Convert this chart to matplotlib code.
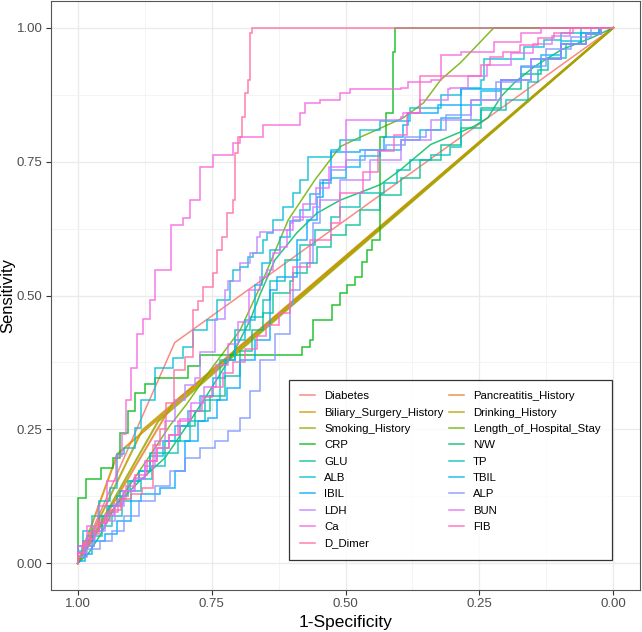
import numpy as np
import matplotlib
matplotlib.use('Agg')
import matplotlib.pyplot as plt
from matplotlib.lines import Line2D

plt.rcParams['font.family'] = ['Liberation Sans', 'DejaVu Sans']

# series names, in factor order (colour order)
names = ["Diabetes", "Pancreatitis_History", "Biliary_Surgery_History", "Drinking_History",
         "Smoking_History", "Length_of_Hospital_Stay", "CRP", "N/W", "GLU", "TP", "ALB",
         "TBIL", "IBIL", "ALP", "LDH", "BUN", "Ca", "FIB", "D_Dimer"]

# ROC curves: x = specificity (axis reversed), y = sensitivity
diabetes_spec = [1.0, 0.819, 0.0]
diabetes_sens = [0.0, 0.412, 1.0]
pancreatitis_spec = [1.0, 0.823, 0.0]
pancreatitis_sens = [0.0, 0.298, 1.0]
biliary_spec = [1.0, 0.926, 0.0]
biliary_sens = [0.0, 0.204, 1.0]
drinking_spec = [1.0, 0.88, 0.0]
drinking_sens = [0.0, 0.248, 1.0]
smoking_spec = [1.0, 0.85, 0.0]
smoking_sens = [0.0, 0.265, 1.0]

stay_spec = [1.0, 0.96, 0.913, 0.866, 0.828, 0.796, 0.753, 0.697, 0.66, 0.607, 0.557, 0.51,
             0.472, 0.44, 0.392, 0.354, 0.322, 0.285, 0.223, 0.0]
stay_sens = [0.0, 0.064, 0.131, 0.20, 0.257, 0.298, 0.36, 0.435, 0.515, 0.641, 0.716, 0.778,
             0.796, 0.81, 0.832, 0.86, 0.903, 0.935, 1.0, 1.0]

crp_spec = [1.0, 0.984, 0.956, 0.935, 0.922, 0.907, 0.894, 0.875, 0.856, 0.795, 0.772, 0.581,
            0.566, 0.56, 0.525, 0.51, 0.497, 0.482, 0.469, 0.459, 0.45, 0.435, 0.424, 0.412,
            0.407, 0.0]
crp_sens = [0.0, 0.122, 0.157, 0.178, 0.197, 0.244, 0.285, 0.317, 0.335, 0.345, 0.369, 0.388,
            0.403, 0.416, 0.454, 0.482, 0.504, 0.519, 0.534, 0.562, 0.585, 0.603, 0.796, 0.841,
            0.954, 1.0]

nw_spec = [1.0, 0.981, 0.959, 0.927, 0.884, 0.837, 0.79, 0.753, 0.71, 0.678, 0.66, 0.632,
           0.591, 0.553, 0.51, 0.435, 0.397, 0.341, 0.26, 0.234, 0.21, 0.185, 0.148, 0.097,
           0.041, 0.0]
nw_sens = [0.0, 0.017, 0.051, 0.111, 0.154, 0.197, 0.266, 0.323, 0.392, 0.454, 0.501, 0.566,
           0.617, 0.654, 0.678, 0.707, 0.735, 0.782, 0.816, 0.832, 0.871, 0.897, 0.927, 0.959,
           0.981, 1.0]

glu_spec = [1.0, 0.99, 0.974, 0.96, 0.945, 0.926, 0.907, 0.885, 0.866, 0.838, 0.81, 0.781,
            0.753, 0.725, 0.697, 0.675, 0.654, 0.635, 0.603, 0.598, 0.572, 0.553, 0.528, 0.50,
            0.472, 0.435, 0.397, 0.36, 0.322, 0.285, 0.247, 0.21, 0.172, 0.135, 0.097, 0.06,
            0.022, 0.0]
glu_sens = [0.0, 0.019, 0.041, 0.06, 0.088, 0.107, 0.126, 0.154, 0.172, 0.206, 0.229, 0.257,
            0.285, 0.313, 0.35, 0.397, 0.435, 0.467, 0.504, 0.528, 0.542, 0.56, 0.59, 0.613,
            0.632, 0.66, 0.688, 0.72, 0.753, 0.781, 0.813, 0.851, 0.885, 0.913, 0.941, 0.969,
            0.991, 1.0]

tp_spec = [1.0, 0.986, 0.969, 0.954, 0.937, 0.918, 0.9, 0.881, 0.862, 0.838, 0.813, 0.791,
           0.763, 0.735, 0.707, 0.678, 0.654, 0.641, 0.613, 0.585, 0.557, 0.528, 0.51, 0.472,
           0.429, 0.403, 0.379, 0.341, 0.304, 0.285, 0.247, 0.201, 0.159, 0.141, 0.122, 0.088,
           0.051, 0.026, 0.0]
tp_sens = [0.0, 0.013, 0.032, 0.051, 0.069, 0.088, 0.116, 0.135, 0.157, 0.182, 0.206, 0.229,
           0.266, 0.304, 0.379, 0.435, 0.459, 0.491, 0.528, 0.566, 0.594, 0.622, 0.647, 0.665,
           0.692, 0.71, 0.735, 0.753, 0.763, 0.778, 0.828, 0.847, 0.866, 0.898, 0.922, 0.944,
           0.969, 0.988, 1.0]

alb_spec = [1.0, 0.99, 0.974, 0.96, 0.94, 0.926, 0.913, 0.894, 0.881, 0.856, 0.823, 0.804,
            0.785, 0.759, 0.74, 0.716, 0.71, 0.697, 0.682, 0.673, 0.654, 0.647, 0.635, 0.617,
            0.598, 0.585, 0.57, 0.56, 0.528, 0.51, 0.472, 0.435, 0.379, 0.322, 0.285, 0.247,
            0.242, 0.167, 0.129, 0.097, 0.06, 0.03, 0.0]
alb_sens = [0.0, 0.032, 0.06, 0.088, 0.116, 0.14, 0.204, 0.216, 0.253, 0.304, 0.365, 0.384,
            0.403, 0.435, 0.454, 0.491, 0.528, 0.547, 0.553, 0.572, 0.579, 0.603, 0.617, 0.641,
            0.665, 0.692, 0.716, 0.759, 0.759, 0.772, 0.791, 0.81, 0.825, 0.85, 0.875, 0.888,
            0.903, 0.941, 0.965, 0.978, 0.99, 1.0, 1.0]

tbil_spec = [1.0, 0.993, 0.982, 0.969, 0.954, 0.941, 0.922, 0.903, 0.885, 0.866, 0.841, 0.819,
             0.795, 0.772, 0.748, 0.725, 0.707, 0.688, 0.669, 0.656, 0.641, 0.622, 0.603, 0.585,
             0.566, 0.547, 0.528, 0.50, 0.472, 0.435, 0.397, 0.36, 0.322, 0.285, 0.247, 0.21,
             0.172, 0.135, 0.097, 0.06, 0.026, 0.0]
tbil_sens = [0.0, 0.022, 0.032, 0.051, 0.06, 0.088, 0.107, 0.135, 0.154, 0.172, 0.20, 0.229,
             0.257, 0.285, 0.313, 0.345, 0.379, 0.416, 0.454, 0.52, 0.56, 0.585, 0.61, 0.64,
             0.66, 0.69, 0.71, 0.72, 0.74, 0.76, 0.772, 0.791, 0.81, 0.832, 0.856, 0.881,
             0.903, 0.926, 0.95, 0.975, 0.991, 1.0]

ibil_spec = [1.0, 0.987, 0.974, 0.95, 0.926, 0.9, 0.881, 0.847, 0.819, 0.8, 0.776, 0.757,
             0.74, 0.722, 0.697, 0.669, 0.641, 0.628, 0.59, 0.572, 0.553, 0.542, 0.528, 0.472,
             0.429, 0.422, 0.392, 0.384, 0.328, 0.285, 0.21, 0.154, 0.097, 0.051, 0.022, 0.0]
ibil_sens = [0.0, 0.004, 0.017, 0.041, 0.054, 0.079, 0.116, 0.129, 0.141, 0.172, 0.229, 0.266,
             0.272, 0.304, 0.328, 0.379, 0.416, 0.51, 0.534, 0.603, 0.641, 0.684, 0.716, 0.768,
             0.772, 0.796, 0.796, 0.819, 0.841, 0.856, 0.885, 0.903, 0.941, 0.969, 0.988, 1.0]

alp_spec = [1.0, 0.982, 0.959, 0.937, 0.913, 0.885, 0.856, 0.828, 0.80, 0.772, 0.744, 0.72,
            0.697, 0.678, 0.66, 0.632, 0.603, 0.598, 0.585, 0.56, 0.547, 0.528, 0.50, 0.463,
            0.425, 0.388, 0.35, 0.313, 0.266, 0.219, 0.172, 0.126, 0.079, 0.041, 0.0]
alp_sens = [0.0, 0.011, 0.026, 0.041, 0.06, 0.088, 0.116, 0.144, 0.172, 0.197, 0.216, 0.229,
            0.247, 0.272, 0.322, 0.379, 0.429, 0.485, 0.51, 0.56, 0.635, 0.716, 0.735, 0.753,
            0.772, 0.781, 0.796, 0.81, 0.838, 0.866, 0.898, 0.928, 0.96, 0.982, 1.0]

ldh_spec = [1.0, 0.988, 0.969, 0.95, 0.931, 0.913, 0.894, 0.875, 0.856, 0.838, 0.819, 0.80,
            0.781, 0.772, 0.744, 0.725, 0.72, 0.697, 0.678, 0.665, 0.66, 0.635, 0.603, 0.598,
            0.56, 0.547, 0.51, 0.454, 0.397, 0.341, 0.266, 0.21, 0.154, 0.097, 0.051, 0.022, 0.0]
ldh_sens = [0.0, 0.013, 0.032, 0.06, 0.079, 0.107, 0.135, 0.157, 0.182, 0.229, 0.266, 0.304,
            0.332, 0.345, 0.394, 0.457, 0.51, 0.528, 0.56, 0.579, 0.609, 0.618, 0.622, 0.635,
            0.647, 0.665, 0.678, 0.716, 0.753, 0.791, 0.828, 0.866, 0.903, 0.941, 0.969, 0.988, 1.0]

bun_spec = [1.0, 0.985, 0.968, 0.95, 0.932, 0.915, 0.895, 0.875, 0.852, 0.83, 0.81, 0.788,
            0.765, 0.742, 0.72, 0.70, 0.68, 0.66, 0.647, 0.635, 0.622, 0.609, 0.598, 0.579,
            0.555, 0.53, 0.50, 0.472, 0.397, 0.392, 0.36, 0.309, 0.304, 0.272, 0.235, 0.19,
            0.15, 0.115, 0.08, 0.045, 0.0]
bun_sens = [0.0, 0.02, 0.045, 0.065, 0.09, 0.11, 0.135, 0.16, 0.19, 0.215, 0.24, 0.27, 0.30,
            0.33, 0.37, 0.41, 0.45, 0.51, 0.534, 0.547, 0.579, 0.591, 0.622, 0.641, 0.67, 0.70,
            0.74, 0.828, 0.828, 0.834, 0.841, 0.866, 0.885, 0.888, 0.91, 0.93, 0.952, 0.97,
            0.985, 1.0, 1.0]

ca_spec = [1.0, 0.982, 0.963, 0.945, 0.928, 0.918, 0.909, 0.90, 0.89, 0.879, 0.866, 0.856,
           0.843, 0.825, 0.804, 0.791, 0.772, 0.748, 0.722, 0.71, 0.697, 0.692, 0.654, 0.617,
           0.585, 0.575, 0.547, 0.51, 0.491, 0.454, 0.397, 0.384, 0.341, 0.322, 0.285, 0.223,
           0.21, 0.172, 0.167, 0.135, 0.131, 0.0]
ca_sens = [0.0, 0.032, 0.069, 0.107, 0.154, 0.20, 0.242, 0.304, 0.365, 0.429, 0.457, 0.491,
           0.547, 0.547, 0.632, 0.645, 0.678, 0.74, 0.763, 0.763, 0.785, 0.796, 0.796, 0.819,
           0.819, 0.841, 0.86, 0.866, 0.879, 0.885, 0.885, 0.888, 0.898, 0.903, 0.95, 0.954,
           0.973, 0.973, 0.991, 0.991, 1.0, 1.0]

fib_spec = [1.0, 0.99, 0.977, 0.96, 0.945, 0.925, 0.91, 0.893, 0.87, 0.852, 0.83, 0.812, 0.79,
            0.768, 0.75, 0.728, 0.71, 0.688, 0.665, 0.648, 0.625, 0.603, 0.598, 0.566, 0.528,
            0.51, 0.467, 0.44, 0.41, 0.385, 0.36, 0.347, 0.247, 0.23, 0.205, 0.175, 0.14, 0.11,
            0.075, 0.045, 0.0]
fib_sens = [0.0, 0.02, 0.035, 0.055, 0.075, 0.095, 0.12, 0.145, 0.165, 0.19, 0.215, 0.24,
            0.265, 0.285, 0.31, 0.33, 0.355, 0.375, 0.40, 0.425, 0.445, 0.467, 0.51, 0.553,
            0.603, 0.635, 0.692, 0.73, 0.77, 0.80, 0.84, 0.91, 0.91, 0.93, 0.945, 0.955, 0.968,
            0.98, 0.99, 1.0, 1.0]

ddimer_spec = [1.0, 0.99, 0.975, 0.96, 0.94, 0.92, 0.90, 0.88, 0.86, 0.847, 0.835, 0.82, 0.80,
               0.785, 0.785, 0.776, 0.766, 0.748, 0.74, 0.731, 0.722, 0.71, 0.707, 0.701, 0.693,
               0.688, 0.682, 0.678, 0.675, 0.665, 0.0]
ddimer_sens = [0.0, 0.02, 0.04, 0.06, 0.08, 0.10, 0.12, 0.13, 0.14, 0.22, 0.25, 0.30, 0.36,
               0.385, 0.45, 0.472, 0.49, 0.515, 0.542, 0.585, 0.609, 0.654, 0.678, 0.766, 0.796,
               0.834, 0.879, 0.903, 0.991, 1.0, 1.0]

# (x, y, stepped?) in factor order
curves = [
    (diabetes_spec, diabetes_sens, False),
    (pancreatitis_spec, pancreatitis_sens, False),
    (biliary_spec, biliary_sens, False),
    (drinking_spec, drinking_sens, False),
    (smoking_spec, smoking_sens, False),
    (stay_spec, stay_sens, False),
    (crp_spec, crp_sens, True),
    (nw_spec, nw_sens, False),
    (glu_spec, glu_sens, True),
    (tp_spec, tp_sens, True),
    (alb_spec, alb_sens, True),
    (tbil_spec, tbil_sens, True),
    (ibil_spec, ibil_sens, True),
    (alp_spec, alp_sens, True),
    (ldh_spec, ldh_sens, True),
    (bun_spec, bun_sens, True),
    (ca_spec, ca_sens, True),
    (fib_spec, fib_sens, True),
    (ddimer_spec, ddimer_sens, True),
]


def hcl(h, c=100.0, l=65.0):
    # polar Luv -> sRGB, like R's hcl()
    hr = np.deg2rad(h)
    u = c * np.cos(hr)
    v = c * np.sin(hr)
    xn, yn, zn = 95.047, 100.0, 108.883
    y = yn * ((l + 16) / 116) ** 3
    den = xn + 15 * yn + 3 * zn
    up = u / (13 * l) + 4 * xn / den
    vp = v / (13 * l) + 9 * yn / den
    x = 9.0 * y * up / (4 * vp)
    z = y * (12 - 3 * up - 20 * vp) / (4 * vp)
    x, y, z = x / 100, y / 100, z / 100
    rgb = [3.240479 * x - 1.537150 * y - 0.498535 * z,
           -0.969256 * x + 1.875992 * y + 0.041556 * z,
           0.055648 * x - 0.204043 * y + 1.057311 * z]
    out = []
    for ch in rgb:
        ch = 1.055 * ch ** (1 / 2.4) - 0.055 if ch > 0.00304 else 12.92 * ch
        out.append(min(max(ch, 0.0), 1.0))
    return tuple(out)


n = len(names)
hues = np.linspace(15, 375, n + 1)[:n]
colors = [hcl(h) for h in hues]

fig = plt.figure(figsize=(6.42, 6.32), dpi=100)
ax = fig.add_axes([51 / 642, 42 / 632, 589 / 642, 589 / 632])

for i, ((xs, ys, stepped), col) in enumerate(zip(curves, colors)):
    lw = 1.5 if 1 <= i <= 4 else 1.1
    ax.plot(xs, ys, color=col, lw=lw, alpha=0.85,
            drawstyle='steps-pre' if stepped else 'default', solid_joinstyle='miter')

ax.set_xlim(1.05, -0.05)
ax.set_ylim(-0.05, 1.05)
ticks = [0.0, 0.25, 0.5, 0.75, 1.0]
ax.set_xticks(ticks)
ax.set_yticks(ticks)
ax.set_xticklabels(["0.00", "0.25", "0.50", "0.75", "1.00"])
ax.set_yticklabels(["0.00", "0.25", "0.50", "0.75", "1.00"])
ax.set_xticks([0.125, 0.375, 0.625, 0.875], minor=True)
ax.set_yticks([0.125, 0.375, 0.625, 0.875], minor=True)
ax.grid(True, which='major', color='#EBEBEB', lw=1.0)
ax.grid(True, which='minor', color='#F2F2F2', lw=0.6)
ax.set_axisbelow(True)
ax.tick_params(which='major', length=3.5, width=0.8, color='#333333',
               labelsize=9.5, labelcolor='#4D4D4D', pad=2.5)
ax.tick_params(which='minor', length=0)
for sp in ax.spines.values():
    sp.set_color('#555555')
    sp.set_linewidth(0.8)

ax.set_xlabel("1-Specificity", fontsize=12.5, labelpad=3)
ax.set_ylabel("Sensitivity", fontsize=12)
ax.yaxis.set_label_coords((15 - 51) / 589, 0.5)

# legend: ggplot fills rows, matplotlib fills columns
order = list(range(0, n, 2)) + list(range(1, n, 2))
handles = [Line2D([], [], color=colors[i], lw=1.1, alpha=0.85) for i in order]
labels = [names[i] for i in order]
leg = ax.legend(handles, labels, ncol=2, loc='lower right',
                bbox_to_anchor=((612 - 51) / 589, (590 - 560) / 589),
                borderaxespad=0, fontsize=8.2, frameon=True, fancybox=False,
                handlelength=1.3, handletextpad=0.8, labelspacing=0.56,
                columnspacing=0.5, borderpad=1.0)
leg.get_frame().set_edgecolor('black')
leg.get_frame().set_linewidth(0.9)

fig.savefig("out.png", dpi=100)
